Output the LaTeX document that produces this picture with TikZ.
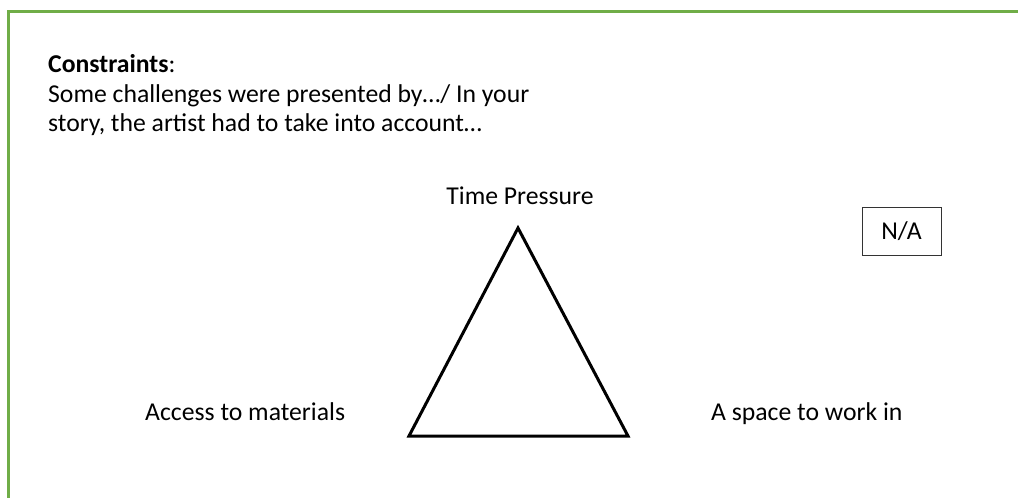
\documentclass[tikz,border=0pt]{standalone}
\usepackage{fontspec}
\setmainfont{Carlito}
\usepackage{tikz}
\usepackage{xcolor}
\definecolor{framegreen}{HTML}{70AD47}

\tikzset{
  txt/.style={inner sep=0pt,anchor=base west,font=\fontsize{25.7}{30}\selectfont},
  corner/.style={inner sep=0pt,anchor=base,font=\fontsize{25.7}{30}\selectfont}
}

\begin{document}
\begin{tikzpicture}[x=1pt,y=-1pt]
\useasboundingbox (0,0) rectangle (1018,498);
\draw[framegreen,line width=3pt] (8.5,520)--(8.5,11.5)--(1040,11.5);
\node[txt] (title) at (48,72) {\textbf{Constraints}:};
\node[txt] (lineone) at (48,102) {Some challenges were presented by…/ In your};
\node[txt] (linetwo) at (48,131) {story, the artist had to take into account…};
\coordinate (top) at (518,228);
\coordinate (left) at (409,436);
\coordinate (right) at (628,436);
\draw[line width=3pt,line join=miter] (top)--(left)--(right)--cycle;
\node[corner] (time) at (520,204) {Time Pressure};
\node[txt] (access) at (145,420) {Access to materials};
\node[txt] (space) at (711,420) {A space to work in};
\node[draw=black!80,line width=1pt,minimum width=79pt,minimum height=48pt,inner sep=0pt,
  font=\fontsize{25.7}{30}\selectfont] (na) at (901.5,231) {N/A};
\end{tikzpicture}
\end{document}
